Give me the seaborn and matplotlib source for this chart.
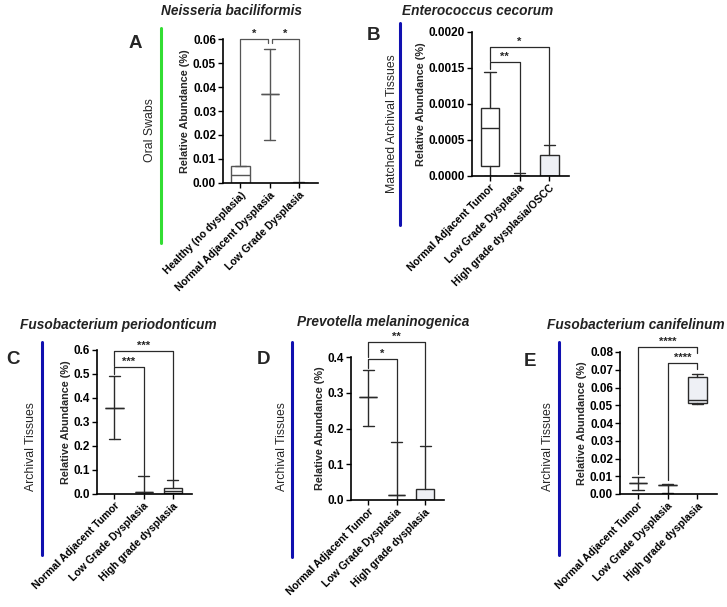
import numpy as np
import matplotlib.pyplot as plt
import seaborn as sns
from matplotlib.lines import Line2D

sns.set_style('ticks')
plt.rcParams['font.family'] = ['Liberation Sans', 'DejaVu Sans']

W, H = 727, 607

# ---- data (min, q1, median, q3, max) ----
a_groups = ['Healthy (no dysplasia)', 'Normal Adjacent Dysplasia', 'Low Grade Dysplasia']
a_min = [0.0, 0.018, 0.0002]
a_q1 = [0.0, 0.037, 0.0002]
a_med = [0.0035, 0.037, 0.0002]
a_q3 = [0.007, 0.037, 0.0002]
a_max = [0.0072, 0.056, 0.0003]

b_groups = ['Normal Adjacent Tumor', 'Low Grade Dysplasia', 'High grade dysplasia/OSCC']
b_min = [0.0, 0.0, 0.0]
b_q1 = [0.00014, 0.0, 0.0]
b_med = [0.00067, 0.0, 0.0]
b_q3 = [0.00095, 0.0, 0.00029]
b_max = [0.00145, 0.00004, 0.00043]

c_groups = ['Normal Adjacent Tumor', 'Low Grade Dysplasia', 'High grade dysplasia']
c_min = [0.23, 0.0, 0.0]
c_q1 = [0.36, 0.008, 0.003]
c_med = [0.36, 0.008, 0.012]
c_q3 = [0.36, 0.008, 0.027]
c_max = [0.49, 0.077, 0.058]

d_groups = ['Normal Adjacent Tumor', 'Low Grade Dysplasia', 'High grade dysplasia']
d_min = [0.208, 0.0, 0.0]
d_q1 = [0.287, 0.015, 0.0]
d_med = [0.287, 0.015, 0.0]
d_q3 = [0.287, 0.015, 0.03]
d_max = [0.365, 0.161, 0.15]

e_groups = ['Normal Adjacent Tumor', 'Low Grade Dysplasia', 'High grade dysplasia']
e_min = [0.0025, 0.0005, 0.0505]
e_q1 = [0.006, 0.005, 0.051]
e_med = [0.006, 0.005, 0.053]
e_q3 = [0.006, 0.005, 0.066]
e_max = [0.0098, 0.0057, 0.0675]

# significance brackets: (x1, x2, top, left foot, right foot, label)
a_sig = [(0, 0.93, 0.06, 0.0075, 0.0585, '*'), (1.07, 2, 0.06, 0.0585, 0.0004, '*')]
b_sig = [(0, 1, 0.00158, 0.00148, 0.00005, '**'), (0, 2, 0.00179, 0.0016, 0.00045, '*')]
c_sig = [(0, 1, 0.53, 0.50, 0.08, '***'), (0, 2, 0.596, 0.535, 0.06, '***')]
d_sig = [(0, 1, 0.394, 0.37, 0.165, '*'), (0, 2, 0.442, 0.40, 0.155, '**')]
e_sig = [(0, 2, 0.0828, 0.011, 0.0795, '****'), (1, 2, 0.0738, 0.008, 0.0705, '****')]

fig = plt.figure(figsize=(7.27, 6.07), dpi=100)


def add_ax(l, r, t, b):
    return fig.add_axes([l / W, 1 - b / H, (r - l) / W, (b - t) / H])


def panel(ax, groups, mins, q1s, meds, q3s, maxs, ymax, step, fmt, sig, fills, lc):
    stats = [dict(whislo=lo, q1=a, med=m, q3=b, whishi=hi, fliers=[])
             for lo, a, m, b, hi in zip(mins, q1s, meds, q3s, maxs)]
    out = ax.bxp(stats, positions=[0, 1, 2], widths=0.62, capwidths=0.38,
                 showfliers=False, patch_artist=True,
                 boxprops=dict(facecolor='white', edgecolor=lc, lw=1),
                 whiskerprops=dict(color=lc, lw=1), capprops=dict(color=lc, lw=1),
                 medianprops=dict(color=lc, lw=1))
    for box, fc in zip(out['boxes'], fills):
        box.set_facecolor(fc)
    for x1, x2, top, lb, rb, lab in sig:
        ax.plot([x1, x1, x2, x2], [lb, top, top, rb], color=lc, lw=0.9, clip_on=False)
        ax.annotate(lab, xy=((x1 + x2) / 2, top), xytext=(0, 0.3), textcoords='offset points',
                    ha='center', va='bottom', fontsize=8, fontweight='bold', annotation_clip=False)
    ticks = np.arange(0, ymax + step / 2, step)
    ax.set_ylim(0, ymax)
    ax.set_xlim(-0.6, 2.66)
    ax.set_yticks(ticks)
    ax.set_yticklabels([fmt.format(t) for t in ticks], fontweight='bold', fontsize=8.5)
    ax.set_xticks([0, 1, 2])
    ax.set_xticklabels(groups, rotation=45, ha='right', rotation_mode='anchor',
                       fontweight='bold', fontsize=7.6)
    ax.set_ylabel('Relative Abundance (%)', fontweight='bold', fontsize=7.8, labelpad=2)
    ax.tick_params(width=1, length=3.5, pad=1.5, colors='black')
    for s in ['left', 'bottom']:
        ax.spines[s].set_linewidth(1.2)
        ax.spines[s].set_color('black')
    sns.despine(ax=ax)


fill = '#eef0f5'
axA = add_ax(223, 318, 39, 183)
panel(axA, a_groups, a_min, a_q1, a_med, a_q3, a_max, 0.06, 0.01, '{:.2f}', a_sig,
      ['white', 'white', 'white'], '#555555')
axB = add_ax(472, 569, 32, 176)
panel(axB, b_groups, b_min, b_q1, b_med, b_q3, b_max, 0.002, 0.0005, '{:.4f}', b_sig,
      ['white', 'white', fill], '#2a2a2a')
axC = add_ax(97, 192, 350, 494)
panel(axC, c_groups, c_min, c_q1, c_med, c_q3, c_max, 0.6, 0.1, '{:.1f}', c_sig,
      ['white', 'white', 'white'], '#2a2a2a')
axD = add_ax(351, 444, 357, 500)
panel(axD, d_groups, d_min, d_q1, d_med, d_q3, d_max, 0.4, 0.1, '{:.1f}', d_sig,
      ['white', 'white', fill], '#2a2a2a')
axE = add_ax(620, 717, 352, 494)
panel(axE, e_groups, e_min, e_q1, e_med, e_q3, e_max, 0.08, 0.01, '{:.2f}', e_sig,
      ['white', 'white', fill], '#2a2a2a')

# titles, panel letters, side labels and bars
titles = [('Neisseria baciliformis', 232, 11), ('Enterococcus cecorum', 478, 11),
          ('Fusobacterium periodonticum', 118, 325), ('Prevotella melaninogenica', 383, 322),
          ('Fusobacterium canifelinum', 636, 325)]
for t, x, y in titles:
    fig.text(x / W, 1 - y / H, t, ha='center', va='center', fontsize=9.8,
             fontweight='bold', style='italic', color='#222222')

letters = [('A', 135, 43), ('B', 374, 36), ('C', 13, 360), ('D', 263, 360), ('E', 530, 362)]
for t, x, y in letters:
    fig.text(x / W, 1 - y / H, t, ha='center', va='center', fontsize=13.5, fontweight='bold')

sides = [('Oral Swabs', 150, 130, 161, 28, 243, '#33dd33'),
         ('Matched Archival Tissues', 392, 124, 400, 23, 225, '#1010b0'),
         ('Archival Tissues', 31, 447, 42, 342, 555, '#1010b0'),
         ('Archival Tissues', 282, 447, 292, 342, 557, '#1010b0'),
         ('Archival Tissues', 548, 447, 559, 342, 555, '#1010b0')]
for t, tx, ty, lx, y1, y2, c in sides:
    fig.text(tx / W, 1 - ty / H, t, rotation=90, ha='center', va='center', fontsize=8.8)
    fig.add_artist(Line2D([lx / W, lx / W], [1 - y1 / H, 1 - y2 / H], color=c, lw=2.2))

fig.savefig('out.png', dpi=100)
